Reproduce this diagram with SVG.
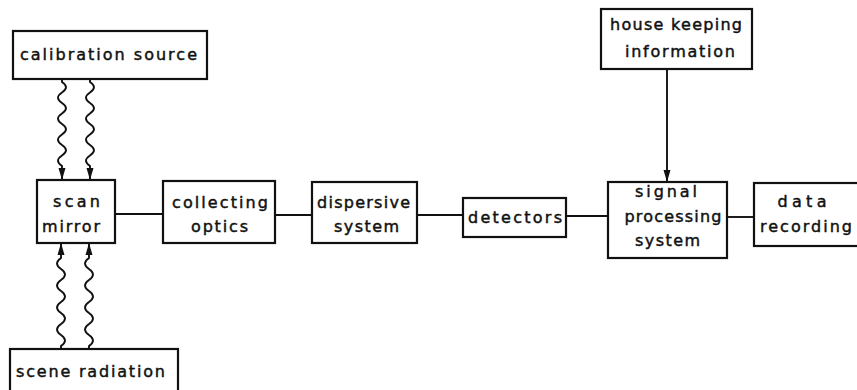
<svg xmlns="http://www.w3.org/2000/svg" width="857" height="390" viewBox="0 0 857 390">
<style>
.box{fill:#fff;stroke:#111;stroke-width:2.2}
.t{font-family:"DejaVu Sans",sans-serif;font-size:16px;fill:#111;stroke:#111;stroke-width:0.45;text-anchor:middle}
.ln{fill:none;stroke:#111;stroke-width:1.9}
</style>
<defs>
<marker id="ah" viewBox="0 0 12 8" refX="12" refY="4" markerWidth="12" markerHeight="8" markerUnits="userSpaceOnUse" orient="auto">
<path d="M0,0.5 L12,4 L0,7.5 Z" fill="#111"/>
</marker>
</defs>
<rect width="857" height="390" fill="#fff"/>
<g id="connectors">
<path class="ln" marker-end="url(#ah)" d="M62,79 v3 q8,5.25 0,10.5 q-8,5.25 0,10.5 q8,5.25 0,10.5 q-8,5.25 0,10.5 q8,5.25 0,10.5 q-8,5.25 0,10.5 q8,5.25 0,10.5 q-8,5.25 0,10.5 v14"/>
<path class="ln" marker-end="url(#ah)" d="M90,79 v3 q8,5.25 0,10.5 q-8,5.25 0,10.5 q8,5.25 0,10.5 q-8,5.25 0,10.5 q8,5.25 0,10.5 q-8,5.25 0,10.5 q8,5.25 0,10.5 q-8,5.25 0,10.5 v14"/>
<path class="ln" marker-end="url(#ah)" d="M61,349 v-3 q8,-5.5 0,-11 q-8,-5.5 0,-11 q8,-5.5 0,-11 q-8,-5.5 0,-11 q8,-5.5 0,-11 q-8,-5.5 0,-11 q8,-5.5 0,-11 q-8,-5.5 0,-11 v-15"/>
<path class="ln" marker-end="url(#ah)" d="M89,349 v-3 q8,-5.5 0,-11 q-8,-5.5 0,-11 q8,-5.5 0,-11 q-8,-5.5 0,-11 q8,-5.5 0,-11 q-8,-5.5 0,-11 q8,-5.5 0,-11 q-8,-5.5 0,-11 v-15"/>
<line class="ln" x1="115" y1="214" x2="163" y2="214"/>
<line class="ln" x1="275" y1="215" x2="312" y2="215"/>
<line class="ln" x1="417" y1="215" x2="463" y2="215"/>
<line class="ln" x1="566" y1="216" x2="608" y2="216"/>
<line class="ln" x1="727" y1="217" x2="754" y2="217"/>
<line class="ln" marker-end="url(#ah)" x1="667" y1="69" x2="667" y2="182"/>
</g>
<g id="calibration-source">
<rect class="box" x="13" y="31" width="194" height="48"/>
<text class="t" x="108.5" y="60" textLength="177" lengthAdjust="spacing">calibration source</text>
</g>
<g id="scan-mirror">
<rect class="box" x="37" y="180" width="78" height="63"/>
<text class="t" x="76.5" y="207" textLength="47" lengthAdjust="spacing">scan</text>
<text class="t" x="71" y="232" textLength="58" lengthAdjust="spacing">mirror</text>
</g>
<g id="scene-radiation">
<rect class="box" x="10" y="349" width="168" height="60"/>
<text class="t" x="90.5" y="377" textLength="149" lengthAdjust="spacing">scene radiation</text>
</g>
<g id="collecting-optics">
<rect class="box" x="163" y="181" width="112" height="62"/>
<text class="t" x="220" y="208" textLength="96" lengthAdjust="spacing">collecting</text>
<text class="t" x="219.5" y="232" textLength="57" lengthAdjust="spacing">optics</text>
</g>
<g id="dispersive-system">
<rect class="box" x="312" y="182" width="105" height="61"/>
<text class="t" x="363.5" y="208" textLength="93" lengthAdjust="spacing">dispersive</text>
<text class="t" x="366.5" y="232" textLength="65" lengthAdjust="spacing">system</text>
</g>
<g id="detectors">
<rect class="box" x="463" y="198" width="103" height="39"/>
<text class="t" x="515" y="223" textLength="94" lengthAdjust="spacing">detectors</text>
</g>
<g id="house-keeping">
<rect class="box" x="601" y="9" width="151" height="60"/>
<text class="t" x="676" y="30" textLength="132" lengthAdjust="spacing">house keeping</text>
<text class="t" x="680" y="57" textLength="110" lengthAdjust="spacing">information</text>
</g>
<g id="signal-processing">
<rect class="box" x="608" y="182" width="119" height="76"/>
<text class="t" x="666" y="197" textLength="62" lengthAdjust="spacing">signal</text>
<text class="t" x="673" y="222" textLength="97" lengthAdjust="spacing">processing</text>
<text class="t" x="667.5" y="246" textLength="65" lengthAdjust="spacing">system</text>
</g>
<g id="data-recording">
<rect class="box" x="754" y="183" width="120" height="63"/>
<text class="t" x="802" y="207" textLength="49" lengthAdjust="spacing">data</text>
<text class="t" x="806" y="232" textLength="92" lengthAdjust="spacing">recording</text>
</g>
</svg>
